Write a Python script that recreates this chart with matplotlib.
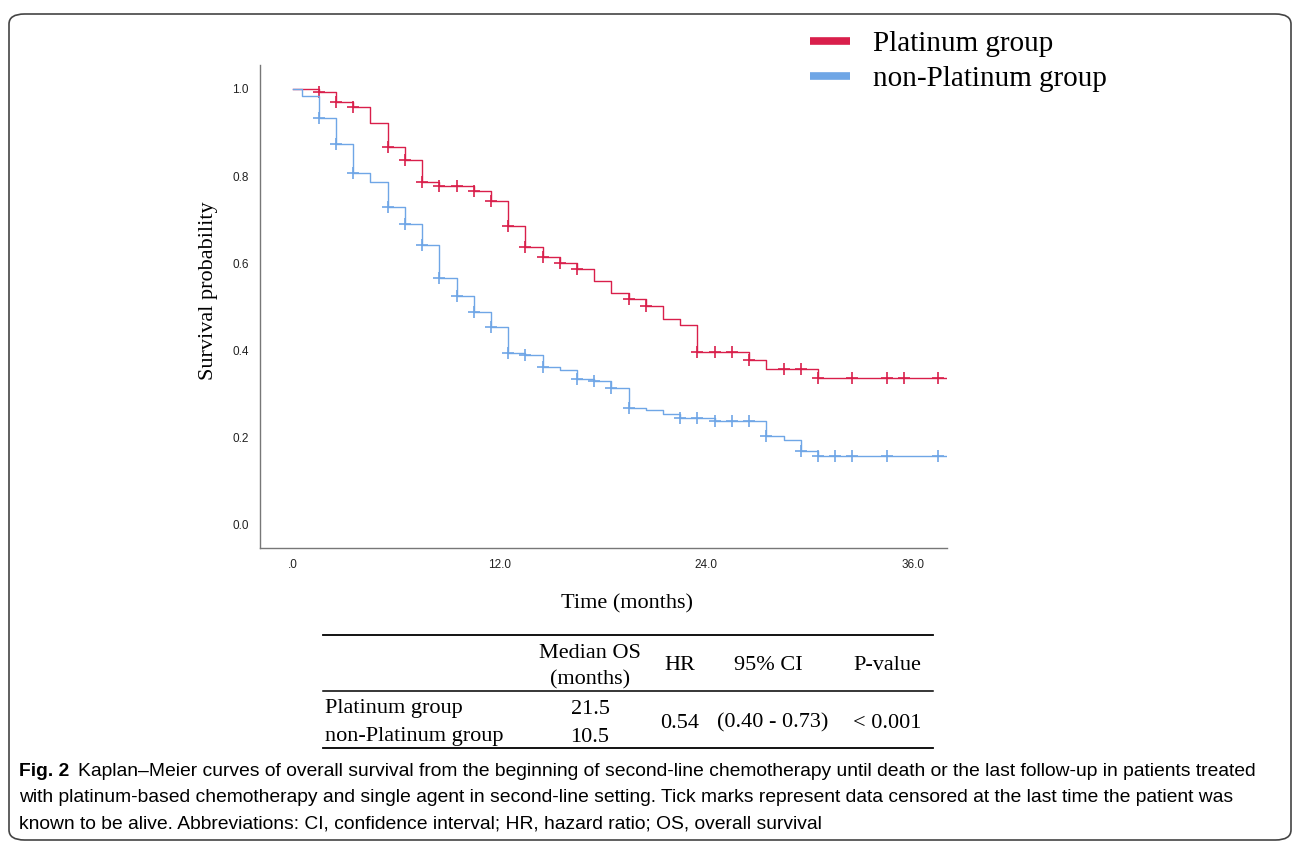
import numpy as np
import matplotlib
matplotlib.use("Agg")
import matplotlib.pyplot as plt
from matplotlib.lines import Line2D
from matplotlib.patches import FancyBboxPatch

# Kaplan-Meier steps (months, survival)
plat_times = [0, 1.5, 2.5, 3.5, 4.5, 5.5, 6.5, 7.5, 8.5, 10.5, 11.5, 12.5, 13.5, 14.5,
              15.5, 16.5, 17.5, 18.5, 19.5, 20.5, 21.5, 22.5, 23.5, 26.5, 27.5, 30.5]
plat_surv = [1.0, 0.993, 0.969, 0.959, 0.923, 0.866, 0.837, 0.787, 0.778, 0.767, 0.742,
             0.685, 0.637, 0.614, 0.600, 0.588, 0.560, 0.531, 0.518, 0.503, 0.472, 0.459,
             0.396, 0.378, 0.358, 0.336]
plat_censor = [1.5, 2.5, 3.5, 5.5, 6.5, 7.5, 8.5, 9.5, 10.5, 11.5, 12.5, 13.5, 14.5, 15.5,
               16.5, 19.5, 20.5, 23.5, 24.5, 25.5, 26.5, 28.5, 29.5, 30.5, 32.5, 34.5,
               35.5, 37.5]
plat_end = 38.0

nonplat_times = [0, 0.5, 1.5, 2.5, 3.5, 4.5, 5.5, 6.5, 7.5, 8.5, 9.5, 10.5, 11.5, 12.5,
                 13.5, 14.5, 15.5, 16.5, 17.5, 18.5, 19.5, 20.5, 21.5, 22.5, 24.5, 27.5,
                 28.5, 29.5, 30.5]
nonplat_surv = [1.0, 0.984, 0.934, 0.874, 0.807, 0.786, 0.729, 0.690, 0.641, 0.566, 0.525,
                0.489, 0.453, 0.394, 0.390, 0.363, 0.356, 0.335, 0.329, 0.313, 0.269,
                0.264, 0.255, 0.246, 0.238, 0.205, 0.195, 0.170, 0.158]
nonplat_censor = [1.5, 2.5, 3.5, 5.5, 6.5, 7.5, 8.5, 9.5, 10.5, 11.5, 12.5, 13.5, 14.5,
                  16.5, 17.5, 18.5, 19.5, 22.5, 23.5, 24.5, 25.5, 26.5, 27.5, 29.5, 30.5,
                  31.5, 32.5, 34.5, 37.5]
nonplat_end = 38.0

x_ticks = [0, 12, 24, 36]
x_tick_labels = [".0", "12.0", "24.0", "36.0"]
y_ticks = [0.0, 0.2, 0.4, 0.6, 0.8, 1.0]
y_tick_labels = ["0.0", "0.2", "0.4", "0.6", "0.8", "1.0"]

group_names = ["Platinum group", "non-Platinum group"]
median_os = ["21.5", "10.5"]
hr_text = "0.54"
ci_text = "(0.40 - 0.73)"
p_text = "< 0.001"

RED = "#d91f4b"
BLUE = "#6fa6e6"
SERIF = "Liberation Serif"
W, H = 1293, 841

fig = plt.figure(figsize=(W / 100, H / 100), dpi=100)


def fx(px):
    return px / W


def fy(py):
    return 1 - py / H


# rounded frame around the figure panel
frame = FancyBboxPatch((fx(9), fy(840)), fx(1291) - fx(9), fy(14) - fy(840),
                       boxstyle="round,pad=0,rounding_size=0.012",
                       transform=fig.transFigure, fill=False,
                       edgecolor="#444444", linewidth=1.2)
fig.patches.append(frame)

ax = fig.add_axes([fx(260), fy(548), fx(947) - fx(260), fy(65) - fy(548)])


def plot_km(times, surv, censor, end, color):
    t = list(times) + [end]
    s = list(surv) + [surv[-1]]
    ax.step(t, s, where="post", color=color, lw=1.0)
    idx = np.searchsorted(times, censor, side="right") - 1
    cy = np.array(surv)[idx]
    ax.plot(censor, cy, linestyle="none", marker="+", color=color, ms=8, mew=1.2)


plot_km(plat_times, plat_surv, plat_censor, plat_end, RED)
plot_km(nonplat_times, nonplat_surv, nonplat_censor, nonplat_end, BLUE)

ax.set_xlim(-1.92, 38.0)
ax.set_ylim(-0.053, 1.055)
ax.set_xticks(x_ticks)
ax.set_xticklabels(x_tick_labels)
ax.set_yticks(y_ticks)
ax.set_yticklabels(y_tick_labels)
ax.tick_params(length=0, labelsize=8.5, pad=8, colors="#222222")
for lab in ax.get_xticklabels() + ax.get_yticklabels():
    lab.set_family("Liberation Sans")
ax.spines["top"].set_visible(False)
ax.spines["right"].set_visible(False)
for sp in ("left", "bottom"):
    ax.spines[sp].set_color("#777777")
    ax.spines[sp].set_linewidth(1.0)

fig.text(fx(209), fy(291), "Survival probability", rotation=90, ha="center", va="center",
         family=SERIF, fontsize=16)
fig.text(fx(627), fy(604), "Time (months)", ha="center", va="center",
         family=SERIF, fontsize=16)

# legend, top right
for i, (name, col) in enumerate(zip(group_names, [RED, BLUE])):
    yy = 41 + i * 35
    fig.add_artist(Line2D([fx(810), fx(850)], [fy(yy), fy(yy)], color=col, lw=5.5,
                          solid_capstyle="butt", transform=fig.transFigure))
    fig.text(fx(873), fy(yy + 3), name, ha="left", va="center", family=SERIF, fontsize=21)

# summary table
for yy, lw in [(635, 1.3), (691, 1.1), (748, 1.3)]:
    fig.add_artist(Line2D([fx(323), fx(933)], [fy(yy), fy(yy)], color="black", lw=lw,
                          transform=fig.transFigure))
tfs = 16
fig.text(fx(590), fy(653), "Median OS", ha="center", va="center", family=SERIF, fontsize=tfs)
fig.text(fx(590), fy(680), "(months)", ha="center", va="center", family=SERIF, fontsize=tfs)
fig.text(fx(680), fy(666), "HR", ha="center", va="center", family=SERIF, fontsize=tfs)
fig.text(fx(768), fy(666), "95% CI", ha="center", va="center", family=SERIF, fontsize=tfs)
fig.text(fx(887), fy(666), "P-value", ha="center", va="center", family=SERIF, fontsize=tfs)
for i, (name, med) in enumerate(zip(group_names, median_os)):
    yy = 709 + i * 28
    fig.text(fx(325), fy(yy), name, ha="left", va="center", family=SERIF, fontsize=tfs)
    fig.text(fx(590), fy(yy), med, ha="center", va="center", family=SERIF, fontsize=tfs)
fig.text(fx(680), fy(723), hr_text, ha="center", va="center", family=SERIF, fontsize=tfs)
fig.text(fx(773), fy(723), ci_text, ha="center", va="center", family=SERIF, fontsize=tfs)
fig.text(fx(887), fy(723), p_text, ha="center", va="center", family=SERIF, fontsize=tfs)

# caption
cap_font = ["Liberation Sans Narrow", "Liberation Sans"]
cfs = 13.9
fig.canvas.draw()
renderer = fig.canvas.get_renderer()
bold = fig.text(fx(19), fy(772), "Fig. 2", ha="left", va="center", family=cap_font,
                fontsize=cfs, weight="bold")
bb = bold.get_window_extent(renderer)
fig.text((bb.x1 + 9) / W, fy(772),
         "Kaplan\u2013Meier curves of overall survival from the beginning of second-line "
         "chemotherapy until death or the last follow-up in patients treated",
         ha="left", va="center", family=cap_font, fontsize=cfs)
fig.text(fx(19), fy(798),
         "with platinum-based chemotherapy and single agent in second-line setting. "
         "Tick marks represent data censored at the last time the patient was",
         ha="left", va="center", family=cap_font, fontsize=cfs)
fig.text(fx(19), fy(824),
         "known to be alive. Abbreviations: CI, confidence interval; HR, hazard ratio; "
         "OS, overall survival",
         ha="left", va="center", family=cap_font, fontsize=cfs)

fig.savefig("out.png", dpi=100)
